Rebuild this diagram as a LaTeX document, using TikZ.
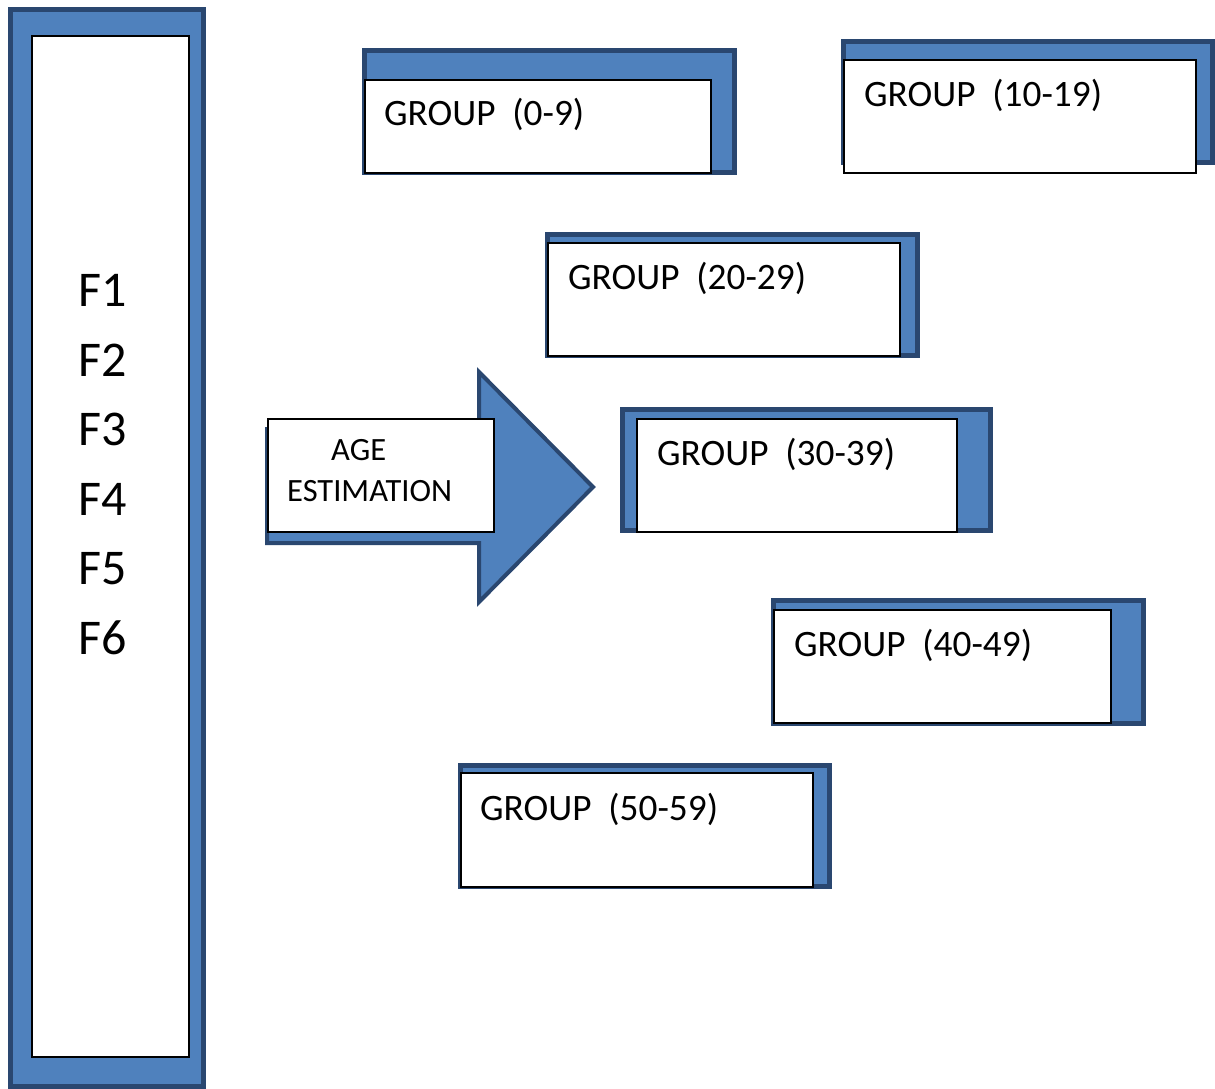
\documentclass[tikz,border=0pt]{standalone}
\usepackage{fontspec}
\setmainfont{Carlito}
\usetikzlibrary{fit}

\definecolor{plateblue}{HTML}{4F81BD}
\definecolor{plateedge}{HTML}{2A4770}

\tikzset{
  backplate/.style={draw=plateedge, fill=plateblue, line width=5pt, inner sep=0pt, rectangle},
  card/.style={draw=black, fill=white, line width=2pt, inner sep=0pt, rectangle},
  grouplabel/.style={anchor=base west, inner sep=0pt, font=\fontsize{37.3}{42}\selectfont},
  featlabel/.style={anchor=base west, inner sep=0pt, font=\fontsize{50}{56}\selectfont},
  agelabel/.style={anchor=base west, inner sep=0pt, font=\fontsize{32.5}{38}\selectfont},
  arrowbody/.style={draw=plateedge, fill=plateblue, line width=4pt, line join=miter}
}

\begin{document}
\begin{tikzpicture}[x=1pt, y=-1pt]
  \useasboundingbox (0,0) rectangle (1215,1089);

  % feature column
  \node[backplate, fit={(10.5,9.5)(203.5,1086.5)}] (featplate) {};
  \node[card, fit={(32,36)(189,1057)}] (featcard) {};
  \node[featlabel] (f1) at (78,306) {F1};
  \node[featlabel] (f2) at (78,376) {F2};
  \node[featlabel] (f3) at (78,445) {F3};
  \node[featlabel] (f4) at (78,515) {F4};
  \node[featlabel] (f5) at (78,584) {F5};
  \node[featlabel] (f6) at (78,654) {F6};

  % block arrow with its label card
  \draw[arrowbody] (267,429) -- (479,429) -- (479,372) -- (593,487)
    -- (479,602) -- (479,543) -- (267,543) -- cycle;
  \node[card, fit={(268,419)(494,532)}] (agecard) {};
  \node[agelabel] (age1) at (331,460) {AGE};
  \node[agelabel] (age2) at (287,501) {ESTIMATION};

  % group (0-9)
  \node[backplate, fit={(364.5,50.5)(734.5,172.5)}] (g0plate) {};
  \node[card, fit={(365,80)(711,173)}] (g0card) {};
  \node[grouplabel] (g0text) at (384,126) {GROUP~~(0-9)};

  % group (10-19)
  \node[backplate, fit={(843.5,41.5)(1212.5,162.5)}] (g1plate) {};
  \node[card, fit={(844,60)(1196,173)}] (g1card) {};
  \node[grouplabel] (g1text) at (864,107) {GROUP~~(10-19)};

  % group (20-29)
  \node[backplate, fit={(547.5,234.5)(917.5,355.5)}] (g2plate) {};
  \node[card, fit={(548,243)(900,356)}] (g2card) {};
  \node[grouplabel] (g2text) at (568,289) {GROUP~~(20-29)};

  % group (30-39)
  \node[backplate, fit={(622.5,409.5)(990.5,530.5)}] (g3plate) {};
  \node[card, fit={(637,419)(957,532)}] (g3card) {};
  \node[grouplabel] (g3text) at (657,465) {GROUP~~(30-39)};

  % group (40-49)
  \node[backplate, fit={(773.5,600.5)(1143.5,723.5)}] (g4plate) {};
  \node[card, fit={(774,610)(1111,723)}] (g4card) {};
  \node[grouplabel] (g4text) at (794,656) {GROUP~~(40-49)};

  % group (50-59)
  \node[backplate, fit={(460.5,765.5)(829.5,886.5)}] (g5plate) {};
  \node[card, fit={(461,773)(813,887)}] (g5card) {};
  \node[grouplabel] (g5text) at (480,820) {GROUP~~(50-59)};
\end{tikzpicture}
\end{document}
